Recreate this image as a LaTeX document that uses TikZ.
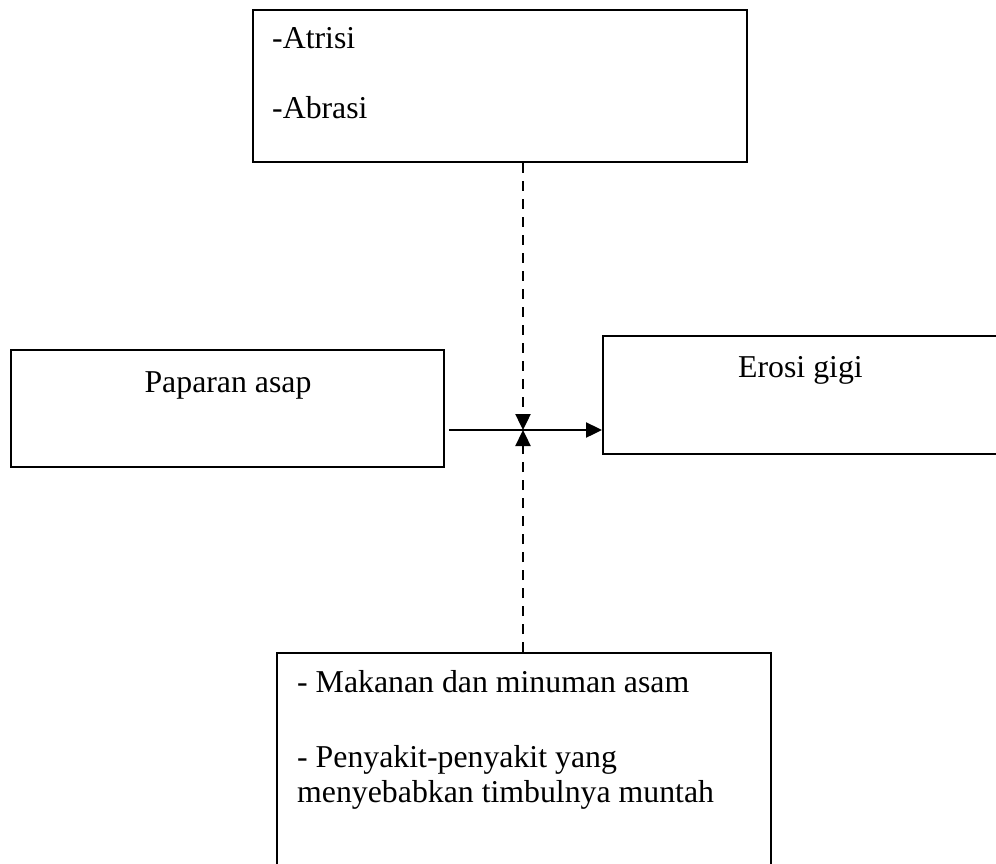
\documentclass[tikz,border=0pt]{standalone}
\usepackage{fontspec}
\setmainfont{Liberation Serif}
\usetikzlibrary{arrows.meta}
\tikzset{
  box/.style={draw, line width=2.2pt, rectangle, inner sep=0pt, anchor=north west},
  txt/.style={inner sep=0pt, anchor=base west, font=\fontsize{31.8}{35}\selectfont},
  conn/.style={line width=2.4pt, -{Triangle[length=16pt,width=15pt]}},
  dconn/.style={conn, dash pattern=on 10pt off 8pt}
}
\begin{document}
\begin{tikzpicture}[x=1pt,y=-1pt]
\useasboundingbox (0,0) rectangle (996,863);
\node[box, minimum width=494pt, minimum height=152pt] (top) at (252,9) {};
\node[box, minimum width=433pt, minimum height=117pt] (left) at (10,349) {};
\node[box, minimum width=404pt, minimum height=118pt] (right) at (602,335) {};
\node[box, minimum width=494pt, minimum height=230pt] (bot) at (276,652) {};
\node[txt] (t1) at (272,48) {-Atrisi};
\node[txt] (t2) at (272,118) {-Abrasi};
\node[txt, anchor=base] (t3) at (228,392) {Paparan asap};
\node[txt] (t4) at (738,377) {Erosi gigi};
\node[txt] (t5) at (297,692) {- Makanan dan minuman asam};
\node[txt] (t6) at (297,767) {- Penyakit-penyakit yang};
\node[txt] (t7) at (297,802) {menyebabkan timbulnya muntah};
\coordinate (j) at (523,430);
\coordinate (hs) at (449,430);
\draw[conn] (hs) -- (right.west |- j);
\draw[dconn] (top.south -| j) -- (j);
\draw[dconn] (bot.north -| j) -- (j);
\end{tikzpicture}
\end{document}
